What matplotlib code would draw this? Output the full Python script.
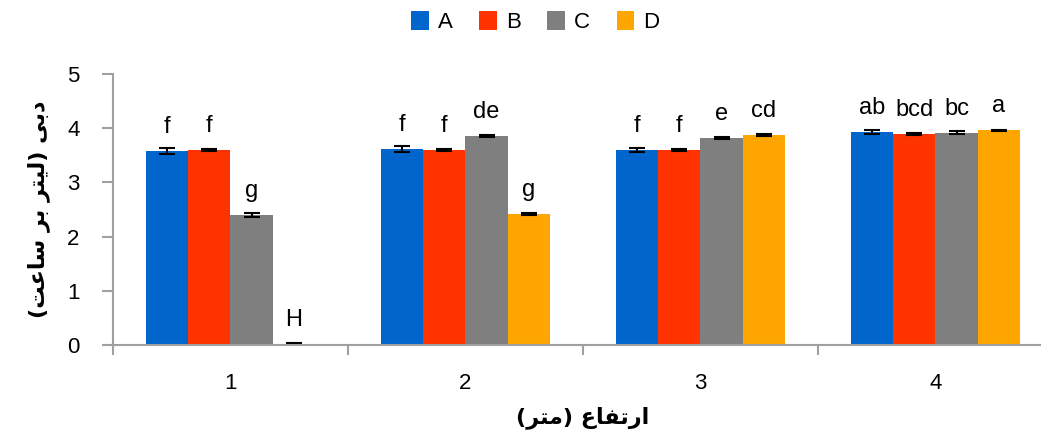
import matplotlib.pyplot as plt
import numpy as np

# data
heights = ['1', '2', '3', '4']
series = ['A', 'B', 'C', 'D']
values = {
    'A': [3.58, 3.62, 3.60, 3.93],
    'B': [3.60, 3.60, 3.60, 3.90],
    'C': [2.40, 3.85, 3.82, 3.92],
    'D': [0.02, 2.42, 3.87, 3.96],
}
errors = {
    'A': [0.06, 0.06, 0.04, 0.04],
    'B': [0.02, 0.02, 0.02, 0.02],
    'C': [0.04, 0.02, 0.02, 0.02],
    'D': [0.02, 0.02, 0.02, 0.01],
}
letters = {
    'A': ['f', 'f', 'f', 'ab'],
    'B': ['f', 'f', 'f', 'bcd'],
    'C': ['g', 'de', 'e', 'bc'],
    'D': ['H', 'g', 'cd', 'a'],
}
colors = {'A': '#0066CC', 'B': '#FF3300', 'C': '#7F7F7F', 'D': '#FFA500'}

# Persian labels, shaped by hand (presentation forms, visual order)
xlabel_fa = '(\uFEAE\uFE98\uFEE3) \uFEC9\uFE8E\uFED4\uFE97\uFEAD\uFE8D'
ylabel_fa = ('(\uFE96\uFECB\uFE8E\uFEB3 \uFEAE\uFE91 \uFEAE\uFE98\uFBFF\uFEDF) '
             '\uFBFD\uFE91\uFEA9')

plt.rcParams['font.family'] = ['Liberation Sans', 'DejaVu Sans']

fig = plt.figure(figsize=(10.41, 4.32), dpi=100)
ax = fig.add_axes([0.1085, 0.2014, 0.9030, 0.6273])

x = np.arange(1, len(heights) + 1)
width = 0.18
offsets = [-1.5 * width, -0.5 * width, 0.5 * width, 1.5 * width]

for s, off in zip(series, offsets):
    ax.bar(x + off, values[s], width, color=colors[s], label=s,
           yerr=errors[s], error_kw=dict(ecolor='black', elinewidth=1.5,
                                         capsize=6, capthick=1.5))
    for xi, v, lab in zip(x, values[s], letters[s]):
        ax.text(xi + off, v + 0.33, lab, ha='center', va='baseline',
                fontsize=17)

ax.set_xlim(0.5, 4.5)
ax.set_ylim(0, 5)
ax.set_yticks([0, 1, 2, 3, 4, 5])
ax.set_xticks(x)
ax.set_xticklabels(heights)
ax.set_xticks(np.arange(0.5, 4.6, 1.0), minor=True)
ax.tick_params(axis='x', which='major', length=0, labelsize=16, pad=20)
ax.tick_params(axis='x', which='minor', length=7, width=1.5, color='#A0A0A0')
ax.tick_params(axis='y', length=8, width=1.5, color='#A0A0A0',
               labelsize=16, pad=16)

for side in ['top', 'right']:
    ax.spines[side].set_visible(False)
for side in ['left', 'bottom']:
    ax.spines[side].set_color('#A0A0A0')
    ax.spines[side].set_linewidth(1.5)

ax.set_xlabel(xlabel_fa, fontsize=16, fontweight='bold',
              family=['DejaVu Sans'], labelpad=9)
ax.set_ylabel(ylabel_fa, fontsize=16, fontweight='bold',
              family=['DejaVu Sans'], labelpad=12)

fig.legend(loc='center', bbox_to_anchor=(0.514, 0.949), ncol=4,
           frameon=False, fontsize=16, handlelength=0.8, handleheight=0.9,
           handletextpad=0.4, columnspacing=1.2)

fig.savefig('out.png', dpi=100)
